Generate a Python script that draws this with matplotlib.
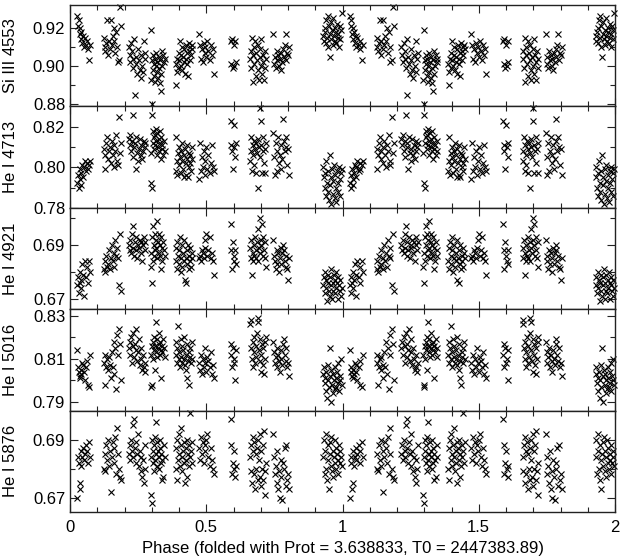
import matplotlib
matplotlib.use("Agg")
import matplotlib.pyplot as plt
from matplotlib.ticker import FixedLocator, MultipleLocator, FormatStrFormatter, FuncFormatter

plt.rcParams['font.family'] = ['Liberation Sans', 'DejaVu Sans']

# rotational phase of each spectrum (0..1), plotted twice (phase and phase + 1)
phase = [
    # 0.03 - 0.08
    0.027, 0.030, 0.032, 0.035, 0.037, 0.040, 0.042, 0.045, 0.048, 0.050, 0.055, 0.060, 0.063, 0.066, 0.070, 0.075,
    # 0.12 - 0.19
    0.125, 0.128, 0.130, 0.133, 0.137, 0.140, 0.143, 0.147, 0.150, 0.153, 0.156, 0.160, 0.163, 0.166, 0.170, 0.173, 0.176, 0.180, 0.184, 0.188,
    # 0.21 - 0.28
    0.216, 0.219, 0.222, 0.225, 0.228, 0.230, 0.233, 0.236, 0.238, 0.241, 0.244, 0.247, 0.250, 0.253, 0.256, 0.259, 0.262, 0.265, 0.268, 0.271, 0.274, 0.277,
    # 0.29 - 0.35
    0.296, 0.298, 0.300, 0.301, 0.303, 0.305, 0.307, 0.309, 0.311, 0.313, 0.315, 0.317, 0.319, 0.321, 0.323, 0.325, 0.327, 0.329, 0.331, 0.333, 0.335, 0.337, 0.339, 0.342, 0.345, 0.348,
    # 0.39 - 0.45
    0.388, 0.390, 0.392, 0.394, 0.397, 0.399, 0.401, 0.403, 0.406, 0.408, 0.410, 0.412, 0.415, 0.417, 0.419, 0.421, 0.424, 0.426, 0.428, 0.430, 0.433, 0.435, 0.437, 0.439, 0.442, 0.444, 0.446, 0.449,
    # 0.47 - 0.53
    0.472, 0.476, 0.480, 0.483, 0.487, 0.490, 0.494, 0.497, 0.500, 0.504, 0.508, 0.512, 0.516, 0.520, 0.524, 0.528,
    # 0.59 - 0.61
    0.590, 0.592, 0.594, 0.597, 0.600, 0.603, 0.606, 0.608,
    # 0.66 - 0.72
    0.661, 0.663, 0.666, 0.668, 0.670, 0.673, 0.675, 0.677, 0.680, 0.682, 0.684, 0.687, 0.689, 0.691, 0.693, 0.696, 0.698, 0.700, 0.702, 0.704, 0.707, 0.709, 0.711, 0.714, 0.716, 0.719,
    # 0.75 - 0.81
    0.746, 0.749, 0.752, 0.755, 0.758, 0.761, 0.764, 0.767, 0.770, 0.773, 0.776, 0.779, 0.782, 0.785, 0.788, 0.791, 0.794, 0.797, 0.800, 0.804,
    # 0.93 - 1.00
    0.930, 0.932, 0.935, 0.937, 0.939, 0.941, 0.944, 0.946, 0.948, 0.950, 0.953, 0.955, 0.957, 0.959, 0.962, 0.964, 0.966, 0.968, 0.971, 0.973, 0.975, 0.977, 0.980, 0.982, 0.984, 0.986, 0.989, 0.991, 0.994, 0.997,
]

si3_4553 = [
    0.926, 0.921, 0.924, 0.917, 0.920, 0.914, 0.918, 0.912, 0.916, 0.910, 0.915, 0.911, 0.913, 0.909, 0.903, 0.911,
    0.915, 0.910, 0.908, 0.912, 0.924, 0.906, 0.913, 0.909, 0.924, 0.911, 0.916, 0.913, 0.920, 0.907, 0.918, 0.910, 0.902, 0.903, 0.931, 0.921,
    0.910, 0.906, 0.902, 0.912, 0.908, 0.904, 0.899, 0.914, 0.885, 0.905, 0.901, 0.896, 0.909, 0.903, 0.898, 0.894, 0.906, 0.900, 0.897, 0.913, 0.904, 0.907,
    0.893, 0.919, 0.880, 0.903, 0.898, 0.906, 0.901, 0.895, 0.904, 0.892, 0.900, 0.907, 0.897, 0.902, 0.894, 0.905, 0.899, 0.891, 0.903, 0.887, 0.896, 0.908, 0.900, 0.906, 0.902, 0.904,
    0.901, 0.890, 0.897, 0.904, 0.899, 0.907, 0.903, 0.913, 0.900, 0.906, 0.910, 0.898, 0.905, 0.902, 0.909, 0.896, 0.911, 0.904, 0.901, 0.907, 0.895, 0.912, 0.908, 0.903, 0.910, 0.906, 0.911, 0.909,
    0.917, 0.911, 0.904, 0.909, 0.902, 0.912, 0.907, 0.910, 0.905, 0.913, 0.908, 0.903, 0.911, 0.906, 0.909, 0.896,
    0.913, 0.901, 0.914, 0.899, 0.911, 0.900, 0.913, 0.902,
    0.904, 0.908, 0.899, 0.915, 0.892, 0.906, 0.910, 0.901, 0.913, 0.895, 0.907, 0.903, 0.911, 0.898, 0.893, 0.905, 0.909, 0.900, 0.914, 0.896, 0.906, 0.902, 0.893, 0.908, 0.899, 0.904,
    0.917, 0.901, 0.905, 0.899, 0.908, 0.903, 0.906, 0.900, 0.904, 0.898, 0.907, 0.902, 0.909, 0.905, 0.911, 0.917, 0.903, 0.907, 0.906, 0.910,
    0.916, 0.913, 0.918, 0.920, 0.912, 0.924, 0.915, 0.926, 0.910, 0.921, 0.905, 0.917, 0.923, 0.914, 0.919, 0.911, 0.925, 0.916, 0.913, 0.920, 0.918, 0.912, 0.922, 0.915, 0.917, 0.910, 0.921, 0.914, 0.919, 0.928,
]

he1_4713 = [
    0.792, 0.796, 0.790, 0.799, 0.794, 0.791, 0.797, 0.801, 0.795, 0.800, 0.803, 0.798, 0.802, 0.799, 0.801, 0.803,
    0.809, 0.799, 0.806, 0.812, 0.815, 0.804, 0.808, 0.810, 0.802, 0.813, 0.806, 0.800, 0.811, 0.808, 0.816, 0.803, 0.801, 0.825, 0.807, 0.812,
    0.814, 0.811, 0.816, 0.808, 0.813, 0.805, 0.826, 0.810, 0.812, 0.799, 0.815, 0.807, 0.803, 0.809, 0.814, 0.806, 0.811, 0.804, 0.808, 0.813, 0.810, 0.812,
    0.807, 0.792, 0.826, 0.790, 0.812, 0.818, 0.815, 0.809, 0.816, 0.811, 0.819, 0.813, 0.806, 0.817, 0.810, 0.814, 0.808, 0.818, 0.812, 0.804, 0.815, 0.809, 0.811, 0.806, 0.813, 0.808,
    0.798, 0.815, 0.803, 0.796, 0.807, 0.801, 0.810, 0.805, 0.797, 0.808, 0.803, 0.812, 0.799, 0.806, 0.795, 0.809, 0.802, 0.796, 0.811, 0.804, 0.795, 0.807, 0.800, 0.806, 0.802, 0.798, 0.810, 0.804,
    0.794, 0.812, 0.798, 0.805, 0.800, 0.808, 0.796, 0.803, 0.810, 0.799, 0.806, 0.797, 0.802, 0.811, 0.800, 0.798,
    0.823, 0.811, 0.808, 0.799, 0.821, 0.810, 0.805, 0.812,
    0.803, 0.808, 0.815, 0.798, 0.811, 0.806, 0.801, 0.813, 0.809, 0.797, 0.812, 0.807, 0.790, 0.814, 0.810, 0.805, 0.829, 0.823, 0.811, 0.797, 0.808, 0.815, 0.802, 0.809, 0.797, 0.812,
    0.817, 0.805, 0.796, 0.812, 0.798, 0.808, 0.815, 0.802, 0.806, 0.811, 0.799, 0.804, 0.824, 0.813, 0.808, 0.815, 0.810, 0.801, 0.809, 0.796,
    0.800, 0.795, 0.790, 0.797, 0.786, 0.803, 0.792, 0.788, 0.798, 0.784, 0.806, 0.791, 0.795, 0.782, 0.799, 0.787, 0.793, 0.801, 0.785, 0.796, 0.790, 0.783, 0.798, 0.792, 0.788, 0.800, 0.794, 0.786, 0.797, 0.799,
]

he1_4921 = [
    0.675, 0.678, 0.672, 0.676, 0.680, 0.674, 0.677, 0.683, 0.679, 0.671, 0.684, 0.678, 0.682, 0.676, 0.684, 0.680,
    0.681, 0.684, 0.680, 0.686, 0.682, 0.683, 0.688, 0.681, 0.685, 0.690, 0.684, 0.687, 0.682, 0.692, 0.686, 0.689, 0.685, 0.675, 0.694, 0.673,
    0.690, 0.688, 0.692, 0.687, 0.694, 0.689, 0.697, 0.686, 0.691, 0.688, 0.693, 0.685, 0.690, 0.689, 0.692, 0.687, 0.691, 0.684, 0.690, 0.693, 0.688, 0.691,
    0.682, 0.687, 0.676, 0.693, 0.684, 0.697, 0.690, 0.686, 0.694, 0.688, 0.692, 0.689, 0.699, 0.685, 0.691, 0.694, 0.687, 0.690, 0.686, 0.693, 0.681, 0.689, 0.684, 0.691, 0.688, 0.686,
    0.684, 0.689, 0.681, 0.691, 0.686, 0.683, 0.688, 0.693, 0.680, 0.685, 0.690, 0.682, 0.687, 0.684, 0.692, 0.677, 0.685, 0.676, 0.688, 0.683, 0.690, 0.681, 0.686, 0.684, 0.689, 0.682, 0.687, 0.685,
    0.685, 0.686, 0.684, 0.688, 0.687, 0.685, 0.689, 0.692, 0.694, 0.686, 0.688, 0.693, 0.685, 0.687, 0.684, 0.679,
    0.698, 0.688, 0.681, 0.691, 0.686, 0.684, 0.688, 0.683,
    0.689, 0.685, 0.692, 0.679, 0.687, 0.684, 0.690, 0.686, 0.693, 0.685, 0.688, 0.691, 0.684, 0.696, 0.689, 0.687, 0.700, 0.692, 0.690, 0.698, 0.686, 0.693, 0.688, 0.685, 0.691, 0.682,
    0.692, 0.686, 0.684, 0.681, 0.688, 0.683, 0.687, 0.680, 0.685, 0.689, 0.683, 0.687, 0.690, 0.688, 0.684, 0.686, 0.682, 0.681, 0.677, 0.685,
    0.675, 0.678, 0.672, 0.680, 0.674, 0.677, 0.669, 0.676, 0.679, 0.673, 0.671, 0.678, 0.675, 0.681, 0.670, 0.676, 0.673, 0.679, 0.672, 0.677, 0.674, 0.680, 0.676, 0.670, 0.678, 0.675, 0.673, 0.677, 0.671, 0.674,
]

he1_5016 = [
    0.814, 0.806, 0.804, 0.802, 0.801, 0.805, 0.803, 0.808, 0.807, 0.804, 0.800, 0.806, 0.809, 0.798, 0.797, 0.812,
    0.808, 0.812, 0.798, 0.806, 0.810, 0.805, 0.811, 0.807, 0.801, 0.813, 0.806, 0.818, 0.803, 0.815, 0.796, 0.821, 0.812, 0.824, 0.817, 0.800,
    0.815, 0.818, 0.812, 0.820, 0.808, 0.816, 0.822, 0.811, 0.817, 0.814, 0.824, 0.809, 0.813, 0.819, 0.807, 0.815, 0.810, 0.805, 0.812, 0.806, 0.804, 0.808,
    0.812, 0.797, 0.798, 0.816, 0.810, 0.818, 0.814, 0.820, 0.805, 0.816, 0.827, 0.813, 0.819, 0.811, 0.815, 0.822, 0.817, 0.812, 0.818, 0.814, 0.801, 0.816, 0.813, 0.819, 0.815, 0.811,
    0.812, 0.818, 0.808, 0.815, 0.825, 0.810, 0.813, 0.806, 0.819, 0.811, 0.816, 0.808, 0.814, 0.810, 0.820, 0.807, 0.812, 0.805, 0.817, 0.801, 0.809, 0.798, 0.813, 0.811, 0.815, 0.808, 0.818, 0.810,
    0.808, 0.805, 0.812, 0.803, 0.810, 0.806, 0.815, 0.808, 0.804, 0.811, 0.809, 0.806, 0.813, 0.803, 0.807, 0.801,
    0.812, 0.817, 0.806, 0.815, 0.808, 0.810, 0.800, 0.814,
    0.826, 0.828, 0.815, 0.810, 0.818, 0.806, 0.813, 0.820, 0.808, 0.816, 0.811, 0.822, 0.829, 0.827, 0.814, 0.809, 0.819, 0.804, 0.812, 0.817, 0.807, 0.815, 0.803, 0.810, 0.818, 0.820,
    0.818, 0.813, 0.808, 0.811, 0.815, 0.806, 0.812, 0.809, 0.804, 0.814, 0.810, 0.807, 0.817, 0.819, 0.812, 0.809, 0.815, 0.806, 0.808, 0.802,
    0.803, 0.806, 0.799, 0.801, 0.795, 0.804, 0.792, 0.800, 0.807, 0.797, 0.815, 0.802, 0.790, 0.805, 0.798, 0.803, 0.794, 0.800, 0.796, 0.806, 0.801, 0.797, 0.804, 0.799, 0.808, 0.795, 0.802, 0.800, 0.810, 0.798,
]

he1_5876 = [
    0.670, 0.684, 0.682, 0.673, 0.675, 0.686, 0.681, 0.684, 0.687, 0.683, 0.685, 0.688, 0.686, 0.682, 0.689, 0.684,
    0.680, 0.685, 0.679, 0.688, 0.683, 0.690, 0.681, 0.686, 0.672, 0.684, 0.689, 0.687, 0.682, 0.691, 0.678, 0.694, 0.685, 0.680, 0.677, 0.676,
    0.685, 0.688, 0.683, 0.690, 0.686, 0.684, 0.695, 0.697, 0.687, 0.682, 0.689, 0.685, 0.692, 0.681, 0.686, 0.679, 0.684, 0.677, 0.683, 0.675, 0.680, 0.688,
    0.671, 0.684, 0.668, 0.690, 0.686, 0.682, 0.688, 0.679, 0.691, 0.683, 0.696, 0.685, 0.681, 0.689, 0.686, 0.684, 0.680, 0.690, 0.687, 0.682, 0.685, 0.676, 0.683, 0.677, 0.688, 0.684,
    0.680, 0.687, 0.676, 0.690, 0.683, 0.692, 0.685, 0.681, 0.688, 0.694, 0.684, 0.679, 0.686, 0.682, 0.689, 0.675, 0.687, 0.683, 0.690, 0.677, 0.685, 0.681, 0.688, 0.684, 0.699, 0.686, 0.682, 0.689,
    0.687, 0.683, 0.691, 0.685, 0.689, 0.682, 0.688, 0.686, 0.690, 0.692, 0.684, 0.681, 0.687, 0.683, 0.680, 0.678,
    0.697, 0.688, 0.678, 0.682, 0.686, 0.680, 0.677, 0.681,
    0.684, 0.679, 0.688, 0.675, 0.691, 0.686, 0.678, 0.689, 0.673, 0.685, 0.680, 0.687, 0.676, 0.690, 0.683, 0.677, 0.692, 0.674, 0.686, 0.680, 0.688, 0.676, 0.693, 0.679, 0.671, 0.682,
    0.692, 0.684, 0.678, 0.681, 0.675, 0.686, 0.673, 0.679, 0.670, 0.683, 0.677, 0.669, 0.682, 0.680, 0.687, 0.674, 0.688, 0.676, 0.678, 0.673,
    0.684, 0.690, 0.678, 0.686, 0.692, 0.680, 0.676, 0.688, 0.683, 0.673, 0.685, 0.689, 0.681, 0.691, 0.679, 0.686, 0.677, 0.684, 0.690, 0.682, 0.687, 0.680, 0.685, 0.683, 0.678, 0.688, 0.682, 0.686, 0.684, 0.681,
]

labels = ["Si III 4553", "He I 4713", "He I 4921", "He I 5016", "He I 5876"]
series = [si3_4553, he1_4713, he1_4921, he1_5016, he1_5876]
ylims = [(0.879, 0.932), (0.780, 0.830), (0.666, 0.704), (0.786, 0.833), (0.665, 0.700)]
major_ticks = [[0.88, 0.90, 0.92], [0.78, 0.80, 0.82], [0.67, 0.69], [0.79, 0.81, 0.83], [0.67, 0.69]]
minor_ticks = [[0.89, 0.91], [0.79, 0.81], [0.68, 0.70], [0.80, 0.82], [0.68]]

for s in series:
    assert len(s) == len(phase), (len(s), len(phase))

fig, axes = plt.subplots(5, 1, sharex=True, figsize=(6.22, 5.59), dpi=100)
fig.subplots_adjust(left=70 / 622, right=615 / 622, top=1 - 5 / 559, bottom=1 - 512 / 559, hspace=0)

xs = phase + [p + 1 for p in phase]
for i, ax in enumerate(axes):
    ys = series[i] + series[i]
    ax.plot(xs, ys, ls='none', marker='x', ms=4.0, mew=0.8, color='black', clip_on=False)
    ax.set_ylim(*ylims[i])
    ax.yaxis.set_major_locator(FixedLocator(major_ticks[i]))
    ax.yaxis.set_minor_locator(FixedLocator(minor_ticks[i]))
    ax.yaxis.set_major_formatter(FormatStrFormatter('%.2f'))
    ax.tick_params(which='both', direction='in', top=True, right=True, labelsize=12, width=0.8, color='#222222')
    ax.tick_params(which='major', length=6)
    ax.tick_params(which='minor', length=3.5)
    ax.set_ylabel(labels[i], fontsize=12)
    ax.yaxis.set_label_coords(-0.095, 0.5)
    for sp in ax.spines.values():
        sp.set_linewidth(1.0)
        sp.set_color('#222222')

ax = axes[-1]
ax.set_xlim(0, 2)
ax.xaxis.set_major_locator(MultipleLocator(0.5))
ax.xaxis.set_minor_locator(MultipleLocator(0.1))
ax.xaxis.set_major_formatter(FuncFormatter(lambda v, pos: '%g' % v))
ax.tick_params(axis='x', pad=6)
ax.set_xlabel("Phase (folded with Prot = 3.638833, T0 = 2447383.89)", fontsize=12, labelpad=4)

fig.savefig("out.png", dpi=100)
